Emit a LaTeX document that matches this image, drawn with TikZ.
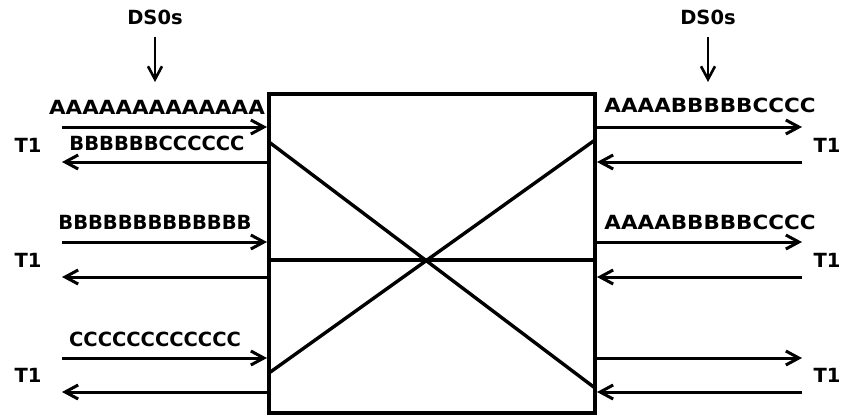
\documentclass[tikz,border=0pt]{standalone}
\usepackage{fontspec}
\setmainfont{DejaVu Sans}
\usetikzlibrary{arrows.meta}

\begin{document}
\begin{tikzpicture}[x=1pt,y=-1pt,
        lbl/.style={font=\bfseries\fontsize{19.5}{19.5}\selectfont,inner sep=0pt},
        wire/.style={line width=3pt,-{Straight Barb[length=13pt,width=14pt]}},
        frame/.style={line width=3.4pt}]
    \useasboundingbox (0,0) rectangle (842,416);

    % the cross-connect box
    \coordinate (nw) at (269,94);
    \coordinate (se) at (595,413);
    \draw[frame] (nw) rectangle (se);
    \coordinate (mid-l) at (269,260);
    \coordinate (mid-r) at (595,260);
    \draw[frame] (mid-l) -- (mid-r);
    \coordinate (x1-l) at (269,142);
    \coordinate (x1-r) at (595,388);
    \coordinate (x2-l) at (269,373);
    \coordinate (x2-r) at (595,140);
    \draw[frame] (x1-l) -- (x1-r);
    \draw[frame] (x2-l) -- (x2-r);

    % T1 pairs on both sides
    \foreach \r/\yi/\yo/\yt in {1/127/162/145, 2/242/277/260, 3/358/392/375} {
        \coordinate (l\r-a) at (62,\yi);  \coordinate (l\r-b) at (267,\yi);
        \coordinate (l\r-c) at (269,\yo); \coordinate (l\r-d) at (62,\yo);
        \coordinate (r\r-a) at (595,\yi); \coordinate (r\r-b) at (802,\yi);
        \coordinate (r\r-c) at (802,\yo); \coordinate (r\r-d) at (597,\yo);
        \draw[wire] (l\r-a) -- (l\r-b);
        \draw[wire] (l\r-c) -- (l\r-d);
        \draw[wire] (r\r-a) -- (r\r-b);
        \draw[wire] (r\r-c) -- (r\r-d);
        \node[lbl] (t1-l\r) at (28,\yt) {T1};
        \node[lbl] (t1-r\r) at (827,\yt) {T1};
    }

    % DS0 streams
    \node[lbl] (ds0-l) at (155,17) {DS0s};
    \node[lbl] (ds0-r) at (708,17) {DS0s};
    \coordinate (ds0-l-tip) at (155,82);
    \coordinate (ds0-r-tip) at (708,82);
    \draw[wire,line width=2.6pt,shorten <=12pt] (ds0-l) -- (ds0-l-tip);
    \draw[wire,line width=2.6pt,shorten <=12pt] (ds0-r) -- (ds0-r-tip);

    \node[lbl,xscale=1.1] (l1-tx) at (157,107) {AAAAAAAAAAAAA};
    \node[lbl] (l1-rx) at (157,143) {BBBBBBCCCCCC};
    \node[lbl] (l2-tx) at (155,222) {BBBBBBBBBBBBB};
    \node[lbl] (l3-tx) at (155,339) {CCCCCCCCCCCC};
    \node[lbl,xscale=1.1] (r1-tx) at (710,105) {AAAABBBBBCCCC};
    \node[lbl,xscale=1.1] (r2-tx) at (710,222) {AAAABBBBBCCCC};
\end{tikzpicture}
\end{document}
